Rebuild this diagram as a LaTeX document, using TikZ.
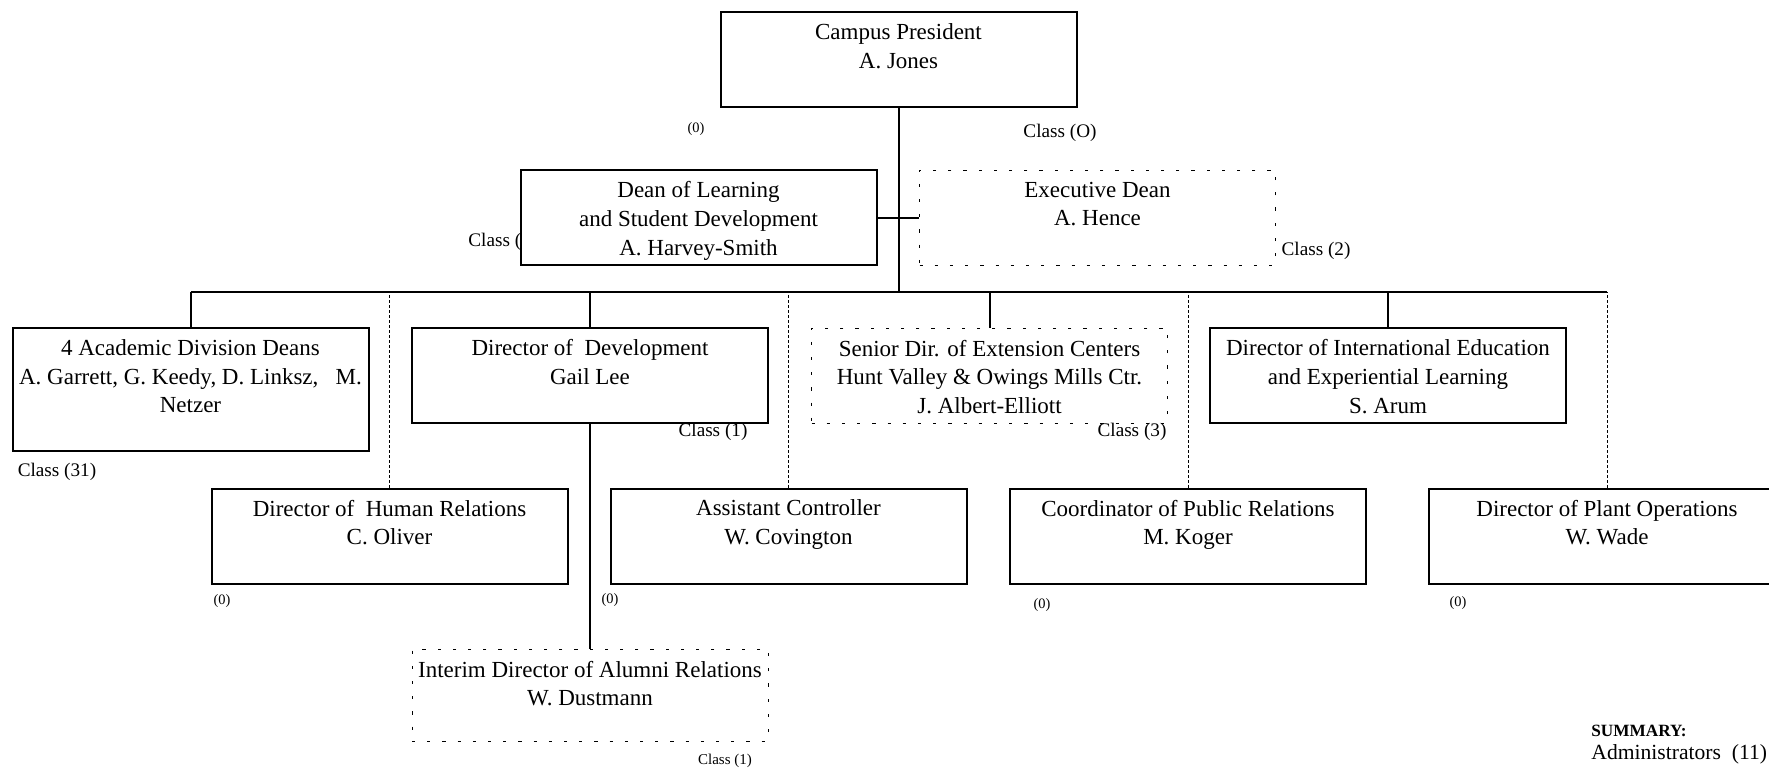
\documentclass[tikz,border=0pt]{standalone}
\usepackage{fontspec}
\setmainfont{Liberation Serif}
\usetikzlibrary{positioning}

\begin{document}
\begin{tikzpicture}[x=0.5pt, y=-0.5pt,
    orgbox/.style={draw, line width=1pt, fill=white, minimum width=178pt, minimum height=47.5pt, inner sep=0pt},
    dotbox/.style={orgbox, line width=0.5pt, dash pattern=on 1.6pt off 6pt},
    boxtxt/.style={align=center, font=\fontsize{11.5}{14.4}\selectfont, inner sep=0pt},
    classtxt/.style={font=\fontsize{9.6}{11}\selectfont, inner sep=0pt},
    tinytxt/.style={font=\fontsize{7.2}{8}\selectfont, inner sep=0pt},
    link/.style={line width=1pt},
    dotlink/.style={line width=0.5pt, dash pattern=on 1.5pt off 1pt}]
    \useasboundingbox (0,0) rectangle (1769,771);

    % labels hidden partly behind boxes
    \node[classtxt, anchor=west] (deanC) at (468,242) {Class (};

    % top
    \node[orgbox] (pres) at (898.5,59.5) {};
    \node[boxtxt, below=6pt of pres.north] (presT) {Campus President\\A. Jones};
    \node[tinytxt] (presO) at (696,129) {(0)};
    \node[classtxt] (presC) at (1060,133) {Class (O)};

    \node[orgbox] (dean) at (698.5,217.5) {};
    \node[boxtxt, below=6pt of dean.north] (deanT) {Dean of Learning\\and Student Development\\A. Harvey-Smith};
    \node[dotbox] (exec) at (1097.5,217.5) {};
    \node[boxtxt, below=6pt of exec.north] (execT) {Executive Dean\\A. Hence};
    \node[classtxt] (execC) at (1316,251) {Class (2)};

    \coordinate (bus) at (898.5,292);
    \draw[link] (pres.south) -- (bus);
    \draw[link] (dean.east) -- (exec.west);

    % second row
    \node[orgbox, minimum height=61.5pt] (acad) at (190.5,389.5) {};
    \node[boxtxt, below=6pt of acad.north] (acadT) {4 Academic Division Deans\\A. Garrett, G. Keedy, D. Linksz,\ \ \ M.\\Netzer};
    \node[classtxt] (acadC) at (57,472) {Class (31)};

    \node[orgbox] (devl) at (590,375.5) {};
    \node[boxtxt, below=6pt of devl.north] (devlT) {Director of\ \ Development\\Gail Lee};
    \node[classtxt] (devlC) at (713,432) {Class (1)};

    \node[dotbox] (ext) at (989.5,375.5) {};
    \node[boxtxt, below=6pt of ext.north] (extT) {Senior Dir. of Extension Centers\\Hunt Valley \& Owings Mills Ctr.\\J. Albert-Elliott};
    \node[classtxt] (extC) at (1132,432) {Class (3)};

    \node[orgbox] (intl) at (1388,375.5) {};
    \node[boxtxt, below=6pt of intl.north] (intlT) {Director of International Education\\and Experiential Learning\\S. Arum};

    % third row
    \node[orgbox] (hr) at (389.5,536) {};
    \node[boxtxt, below=6pt of hr.north] (hrT) {Director of\ \ Human Relations\\C. Oliver};
    \node[tinytxt] (hrO) at (222,601) {(0)};

    \node[orgbox] (ctrl) at (788.5,536) {};
    \node[boxtxt, below=6pt of ctrl.north] (ctrlT) {Assistant Controller\\W. Covington};
    \node[tinytxt] (ctrlO) at (610,600) {(0)};

    \node[orgbox] (pr) at (1188,536) {};
    \node[boxtxt, below=6pt of pr.north] (prT) {Coordinator of Public Relations\\M. Koger};
    \node[tinytxt] (prO) at (1042,605) {(0)};

    \node[orgbox] (plant) at (1607,536) {};
    \node[boxtxt, below=6pt of plant.north] (plantT) {Director of Plant Operations\\W. Wade};
    \node[tinytxt] (plantO) at (1458,603) {(0)};

    % alumni
    \node[dotbox, minimum height=46pt] (alum) at (590,695) {};
    \node[boxtxt, below=6pt of alum.north] (alumT) {Interim Director of Alumni Relations\\W. Dustmann};
    \node[font=\fontsize{7.5}{9}\selectfont, inner sep=0pt] (alumC) at (725,761) {Class (1)};

    % connectors
    \draw[link] (acad.north |- bus) -- (plant.north |- bus);
    \foreach \n in {acad, devl, ext, intl}
        \draw[link] (\n.north) -- (\n.north |- bus);
    \foreach \n in {hr, ctrl, pr, plant}
        \draw[dotlink] (\n.north) -- (\n.north |- bus);
    \draw[link] (devl.south) -- (alum.north);

    % summary
    \node[anchor=west, inner sep=0pt, font=\bfseries\fontsize{8.6}{10}\selectfont] (sumT) at (1591,731) {SUMMARY:};
    \node[anchor=west, inner sep=0pt, font=\fontsize{10.8}{12}\selectfont] (sumA) at (1591,754) {Administrators\ \ (11)};
\end{tikzpicture}
\end{document}
